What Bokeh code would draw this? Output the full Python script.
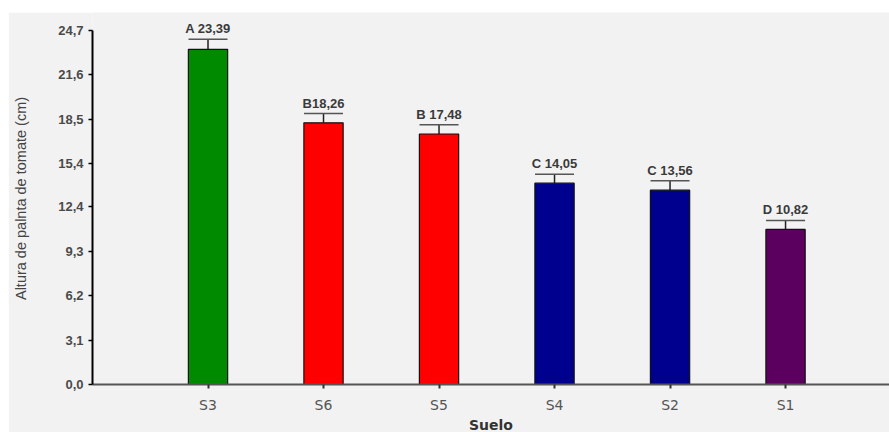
from bokeh.plotting import figure
from bokeh.models import (ColumnDataSource, Range1d, FixedTicker, CustomJSTickFormatter,
                          Whisker, TeeHead, Spacer)
from bokeh.layouts import column, row
from bokeh.core.properties import value
from bokeh.embed import file_html
from bokeh.resources import INLINE

# Tomato plant height by soil type (mean, error, Tukey group)
soils = ["S3", "S6", "S5", "S4", "S2", "S1"]
means = [23.39, 18.26, 17.48, 14.05, 13.56, 10.82]
errors = [0.70, 0.65, 0.65, 0.63, 0.65, 0.63]
groups = ["A", "B", "B", "C", "C", "D"]
label_sep = [" ", "", " ", " ", " ", " "]
colors = ["#008a00", "#ff0000", "#ff0000", "#00008f", "#00008f", "#5c0060"]
y_ticks = [0.0, 3.1, 6.2, 9.3, 12.4, 15.4, 18.5, 21.6, 24.7]

positions = list(range(1, len(soils) + 1))
labels = [f"{g}{s}{m:.2f}".replace(".", ",") for g, s, m in zip(groups, label_sep, means)]
upper = [m + e for m, e in zip(means, errors)]

src = ColumnDataSource(dict(x=positions, mean=means, upper=upper, label=labels, color=colors))

BG = "#f2f2f2"
p = figure(frame_width=797, frame_height=372, output_backend="svg", toolbar_location=None,
           x_range=Range1d(0, 6.9), y_range=Range1d(0, 25.96),
           min_border_left=84, min_border_right=0, min_border_top=0, min_border_bottom=48,
           background_fill_color=BG, border_fill_color=BG, outline_line_color=None)
p.grid.visible = False

p.vbar(x="x", top="mean", width=0.34, fill_color="color", line_color="#111111",
       line_width=1.2, source=src)

p.add_layout(Whisker(base="x", lower="mean", upper="upper", source=src,
                     line_color="#222222", line_width=1.5,
                     upper_head=TeeHead(size=39, line_color="#555555", line_width=1.5),
                     lower_head=None))

p.text(x="x", y="upper", text="label", source=src, text_align="center",
       text_baseline="bottom", y_offset=-3, text_font=value("Liberation Sans"),
       text_font_size="13px", text_font_style="bold", text_color="#3a3a3a")

# y axis
ya = p.yaxis[0]
ya.bounds = (0, 24.7)
ya.ticker = FixedTicker(ticks=y_ticks)
ya.formatter = CustomJSTickFormatter(code="return tick.toFixed(1).replace('.', ',');")
ya.axis_line_color = "black"
ya.axis_line_width = 2
ya.major_tick_in = 0
ya.major_tick_out = 4
ya.major_tick_line_width = 1.5
ya.minor_tick_line_color = None
ya.major_label_standoff = 5
ya.major_label_text_font = "Liberation Sans"
ya.major_label_text_font_size = "13px"
ya.major_label_text_font_style = "bold"
ya.major_label_text_color = "#4a4a4a"
ya.axis_label = "Altura de palnta de tomate (cm)"
ya.axis_label_text_font = "Liberation Sans"
ya.axis_label_text_font_size = "14.5px"
ya.axis_label_text_font_style = "normal"
ya.axis_label_text_color = "#444444"
ya.axis_label_standoff = 26

# x axis
xa = p.xaxis[0]
xa.ticker = FixedTicker(ticks=positions)
xa.major_label_overrides = {pos: s for pos, s in zip(positions, soils)}
xa.axis_line_color = "#555555"
xa.axis_line_width = 2
xa.major_tick_in = 0
xa.major_tick_out = 4
xa.major_tick_line_color = "#333333"
xa.major_tick_line_width = 2
xa.minor_tick_line_color = None
xa.major_label_standoff = 8
xa.major_label_text_font = "DejaVu Sans"
xa.major_label_text_font_size = "14px"
xa.major_label_text_color = "#555555"
xa.axis_label = "Suelo"
xa.axis_label_text_font = "DejaVu Sans"
xa.axis_label_text_font_size = "14px"
xa.axis_label_text_font_style = "bold"
xa.axis_label_text_color = "#333333"
xa.axis_label_standoff = 1

layout = column(Spacer(height=12), row(Spacer(width=8), p))
open("out.html", "w").write(file_html(layout, INLINE))
